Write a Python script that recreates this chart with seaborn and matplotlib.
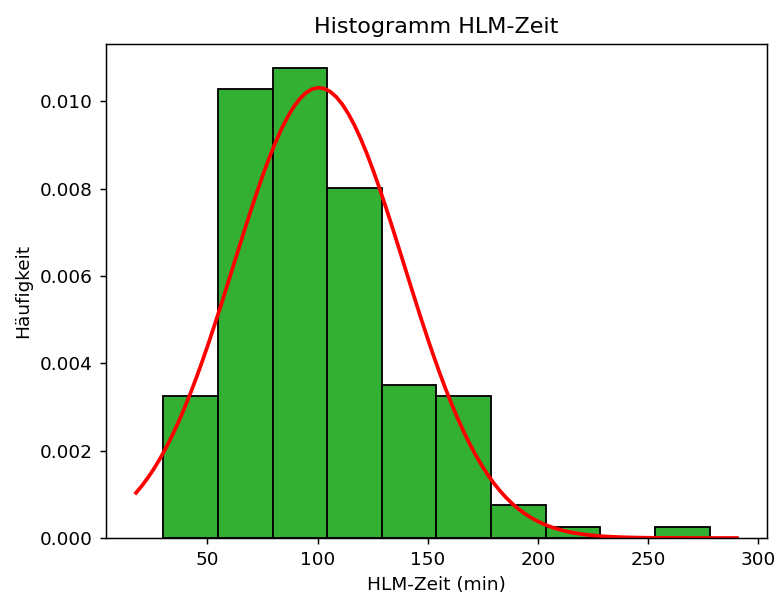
import numpy as np
import pandas as pd
import matplotlib
matplotlib.use("Agg")
import matplotlib.pyplot as plt
import seaborn as sns

# HLM-Zeit in Minuten: Klassengrenzen und Anzahl je Klasse
bin_edges = [30.0, 54.8, 79.6, 104.4, 129.2, 154.0, 178.8, 203.6, 228.4, 253.2, 278.0]
bin_counts = [13, 41, 43, 32, 14, 13, 3, 1, 0, 1]

# Parameter der angepassten Normalverteilung
mu = 100.6
sigma = 38.7

centers = [(a + b) / 2 for a, b in zip(bin_edges[:-1], bin_edges[1:])]
df = pd.DataFrame({"zeit": centers, "anzahl": bin_counts})

fig = plt.figure(figsize=(777 / 133.5, 596 / 133.5), dpi=133.5)
ax = fig.add_axes([106 / 777, 1 - 538 / 596, (767 - 106) / 777, (538 - 44) / 596])

sns.histplot(data=df, x="zeit", weights="anzahl", bins=bin_edges, stat="density",
             color="#33b033", alpha=1.0, edgecolor="black", linewidth=1.0, ax=ax)

xmin, xmax = ax.get_xlim()
xs = np.linspace(xmin, xmax, 100)
pdf = np.exp(-0.5 * ((xs - mu) / sigma) ** 2) / (sigma * np.sqrt(2 * np.pi))
ax.plot(xs, pdf, color="red", linewidth=2)

ax.set_title("Histogramm HLM-Zeit")
ax.set_xlabel("HLM-Zeit (min)")
ax.set_ylabel("Häufigkeit")

fig.savefig("out.png", dpi=133.5)
